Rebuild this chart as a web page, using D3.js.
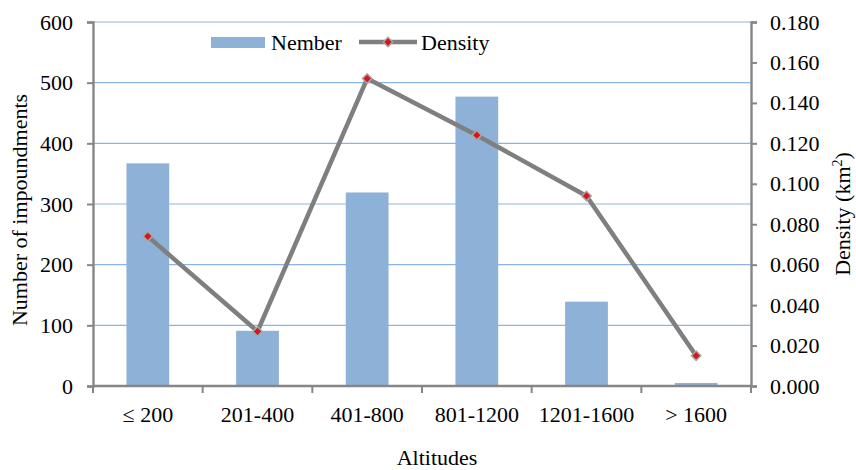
<!DOCTYPE html>
<html><head><meta charset="utf-8">
<script src="https://cdn.jsdelivr.net/npm/d3@7"></script>
<style>body{margin:0;background:#fff}svg{display:block}text{font-family:"Liberation Serif","DejaVu Serif",serif;fill:#000}</style>
</head><body><svg id="c" width="856" height="470"></svg>
<script>
const categories = ["\u2264 200","201-400","401-800","801-1200","1201-1600","> 1600"];
const numberValues = [367, 91, 319, 477, 139, 5];
const densityValues = [0.074, 0.027, 0.152, 0.124, 0.094, 0.015];
const leftTicks = [0,100,200,300,400,500,600];
const rightTicks = [0,0.02,0.04,0.06,0.08,0.1,0.12,0.14,0.16,0.18];

const svg = d3.select("#c");
const L = 93, R = 751, T = 22, B = 386;
const FS = "22px";
const x = d3.scaleBand().domain(categories).range([L, R]).paddingInner(0).paddingOuter(0);
const y = d3.scaleLinear().domain([0,600]).range([B, T]);
const y2 = d3.scaleLinear().domain([0,0.18]).range([B, T]);
const gridC = "#8db4e2", axC = "#868686", barC = "#8eb1d7", lineC = "#7f7f7f";

// gridlines
svg.append("g").selectAll("line").data(leftTicks.filter(d=>d>0)).join("line")
  .attr("x1", L).attr("x2", R).attr("y1", d=>y(d)).attr("y2", d=>y(d))
  .attr("stroke", gridC).attr("stroke-width", 1.2);

// bars
const bw = x.bandwidth()*0.39;
svg.append("g").selectAll("rect").data(numberValues).join("rect")
  .attr("x", (d,i)=>x(categories[i]) + x.bandwidth()/2 - bw/2)
  .attr("width", bw)
  .attr("y", d=>y(d)).attr("height", d=>B - y(d))
  .attr("fill", barC);

// axes
const la = svg.append("g").attr("transform",`translate(${L},0)`)
  .call(d3.axisLeft(y).tickValues(leftTicks).tickSize(6).tickPadding(14).tickFormat(d3.format("d")));
const ra = svg.append("g").attr("transform",`translate(${R},0)`)
  .call(d3.axisRight(y2).tickValues(rightTicks).tickSize(6).tickPadding(13).tickFormat(d3.format(".3f")));
const xa = svg.append("g").attr("transform",`translate(0,${B})`)
  .call(d3.axisBottom(x).tickSize(0).tickPadding(20));
// category boundary ticks
svg.append("g").selectAll("line").data(d3.range(categories.length+1)).join("line")
  .attr("x1", i=>L + i*x.step()).attr("x2", i=>L + i*x.step())
  .attr("y1", B).attr("y2", B+7).attr("stroke", axC).attr("stroke-width", 2);
[la, ra, xa].forEach(g=>{
  g.selectAll("path.domain").attr("stroke", axC).attr("stroke-width", 2.4);
  g.selectAll(".tick line").attr("stroke", axC).attr("stroke-width", 2);
  g.selectAll("text").style("font-family", '"Liberation Serif",serif').style("font-size",FS).attr("fill","#000");
});
xa.select("path.domain").attr("d", `M${L},0H${R}`);

// density line
const line = d3.line().x((d,i)=>x(categories[i]) + x.bandwidth()/2).y(d=>y2(d));
svg.append("path").datum(densityValues).attr("d", line)
  .attr("fill","none").attr("stroke", lineC).attr("stroke-width", 4.5).attr("stroke-linejoin","round");
const diamond = d3.symbol().type(d3.symbolSquare).size(44);
svg.append("g").selectAll("path").data(densityValues).join("path")
  .attr("transform",(d,i)=>`translate(${x(categories[i]) + x.bandwidth()/2},${y2(d)}) rotate(45)`)
  .attr("d", diamond).attr("fill","#d8141c").attr("stroke","#a6a6a6").attr("stroke-width",1.5);

// axis titles
svg.append("text").attr("transform","translate(27,210) rotate(-90)").attr("text-anchor","middle")
  .style("font-size",FS).text("Number of impoundments");
const rt = svg.append("text").attr("transform","translate(850,214) rotate(-90)").attr("text-anchor","middle")
  .style("font-size",FS);
rt.append("tspan").text("Density (km");
rt.append("tspan").attr("dy",-8).style("font-size","14px").text("2");
rt.append("tspan").attr("dy",8).text(")");
svg.append("text").attr("x", 437).attr("y", 465).attr("text-anchor","middle")
  .style("font-size",FS).text("Altitudes");

// legend
const lg = svg.append("g");
lg.append("rect").attr("x",211).attr("y",37).attr("width",54).attr("height",11).attr("fill",barC);
lg.append("text").attr("x",271).attr("y",50).style("font-size",FS).text("Nember");
lg.append("line").attr("x1",359).attr("x2",417).attr("y1",42).attr("y2",42).attr("stroke",lineC).attr("stroke-width",4.5);
lg.append("path").attr("transform","translate(388,42) rotate(45)").attr("d",diamond).attr("fill","#d8141c").attr("stroke","#a6a6a6").attr("stroke-width",1.5);
lg.append("text").attr("x",421).attr("y",50).style("font-size",FS).text("Density");
</script></body></html>
